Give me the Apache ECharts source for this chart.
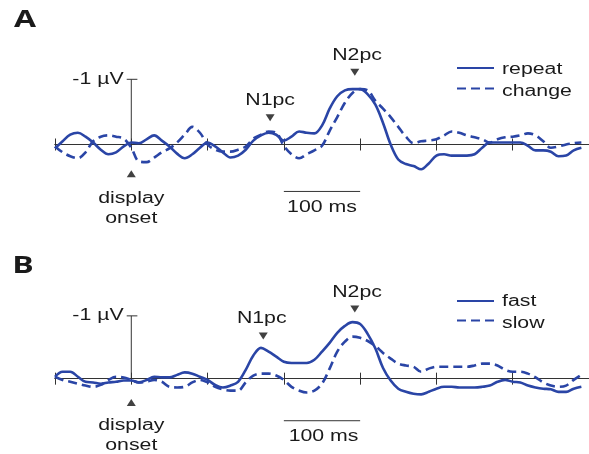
<!DOCTYPE html>
<html>
<head>
<meta charset="utf-8">
<script src="https://cdn.jsdelivr.net/npm/echarts@6/dist/echarts.min.js"></script>
<style>
html,body{margin:0;padding:0;background:#fff;}
#chart{width:589px;height:454px;}
</style>
</head>
<body>
<div id="chart"></div>
<script>
// time points (ms relative to display onset)
const times = [-100,-90,-80,-70,-60,-50,-40,-30,-20,-10,0,10,20,30,40,50,60,70,80,90,100,110,120,130,140,150,160,170,180,190,200,210,220,230,240,250,260,270,280,290,300,310,320,330,340,350,360,370,380,390,400,410,420,430,440,450,460,470,480,490,500,510,520,530,540,550,560,570,580,590];

// Panel A (µV, negative plotted up)
const repeatA = [0.06,-0.05,-0.15,-0.18,-0.12,-0.03,0.08,0.15,0.12,0.03,-0.03,-0.02,-0.08,-0.14,-0.06,0.03,0.14,0.21,0.15,0.05,-0.03,0.03,0.12,0.2,0.17,0.08,-0.06,-0.14,-0.18,-0.15,-0.06,-0.12,-0.2,-0.18,-0.17,-0.29,-0.55,-0.74,-0.83,-0.85,-0.85,-0.77,-0.61,-0.33,0,0.23,0.3,0.33,0.38,0.29,0.17,0.15,0.17,0.17,0.17,0.15,0.05,-0.03,-0.03,-0.03,-0.03,-0.03,0.02,0.09,0.09,0.11,0.18,0.17,0.09,0.05];
const changeA = [0.03,0.12,0.18,0.21,0.12,-0.05,-0.12,-0.14,-0.12,-0.09,0.05,0.26,0.27,0.2,0.12,0.06,-0.03,-0.15,-0.27,-0.18,0,0.08,0.11,0.11,0.08,0.03,-0.09,-0.15,-0.2,-0.18,0.02,0.15,0.21,0.15,0.09,0.02,-0.21,-0.42,-0.64,-0.79,-0.85,-0.83,-0.67,-0.55,-0.42,-0.27,-0.12,-0.02,-0.05,-0.06,-0.08,-0.14,-0.2,-0.18,-0.14,-0.11,-0.08,-0.03,-0.08,-0.11,-0.12,-0.14,-0.17,-0.14,-0.05,0.05,0.03,0,-0.02,-0.03];

// Panel B
const fastB = [-0.03,-0.11,-0.11,-0.03,0.05,0.06,0.08,0.06,0.05,0.03,0.03,0.06,0.02,-0.03,-0.02,-0.02,-0.06,-0.1,-0.08,-0.03,0.02,0.1,0.14,0.11,0.05,-0.14,-0.37,-0.49,-0.43,-0.35,-0.27,-0.25,-0.25,-0.25,-0.3,-0.43,-0.57,-0.73,-0.84,-0.9,-0.87,-0.71,-0.48,-0.17,0.03,0.16,0.21,0.24,0.25,0.21,0.16,0.13,0.13,0.14,0.14,0.14,0.13,0.11,0.05,0.02,0.05,0.06,0.11,0.14,0.16,0.17,0.21,0.21,0.16,0.13];
const slowB = [-0.03,0.02,0.05,0.08,0.11,0.13,0.1,0.02,-0.03,-0.02,0.02,0.06,0.05,0.02,0.05,0.13,0.14,0.13,0.06,0.02,0.06,0.13,0.17,0.19,0.19,0.06,-0.05,-0.08,-0.08,-0.05,0.02,0.13,0.19,0.22,0.19,0.08,-0.16,-0.43,-0.59,-0.67,-0.65,-0.6,-0.52,-0.41,-0.32,-0.24,-0.21,-0.19,-0.11,-0.16,-0.19,-0.19,-0.19,-0.19,-0.19,-0.21,-0.24,-0.24,-0.21,-0.14,-0.11,-0.11,-0.08,-0.02,0.06,0.11,0.13,0.11,0.02,-0.06];

const seriesNamesA = ['repeat','change'];
const seriesNamesB = ['fast','slow'];
const panelLetters = ['A','B'];

// annotation marks: [time, µV]
const peakMarksA = [[182,-0.41],[293,-1.11]];
const peakMarksB = [[173,-0.68],[293,-1.11]];
const onsetMarkA = [[0,0.45]];
const onsetMarkB = [[0,0.38]];
const calTimes = [0,0];          // -1 µV calibration bar
const calVolts = [0,-1];
const calTickTimes = [-6,8];
const calTickVolts = [-1,-1];
const scaleBarTimes = [200,300]; // 100 ms bar
const scaleBarVoltA = 0.72;
const scaleBarVoltB = 0.67;

// text annotations placed in data coordinates: [panel, time, µV, text, align]
const annotationTexts = [
  [0,-10,-1.0,'-1 µV','right'],
  [0,182,-0.67,'N1pc','center'],
  [0,296,-1.37,'N2pc','center'],
  [0,0,0.83,'display','center'],
  [0,0,1.13,'onset','center'],
  [0,250,0.97,'100 ms','center'],
  [1,-10,-1.0,'-1 µV','right'],
  [1,171,-0.95,'N1pc','center'],
  [1,296,-1.37,'N2pc','center'],
  [1,0,0.75,'display','center'],
  [1,0,1.06,'onset','center'],
  [1,252,0.93,'100 ms','center']
];

const BLUE = '#2a45a6';
const AX = '#333333';
const FONT_FAMILY = '"Liberation Sans", Arial, sans-serif';
const TXT = '#1a1a1a';
const SX = 1.33; // horizontal stretch of the original artwork
const YMIN = -1.6, YMAX = 1.2;

const zip = (xs, ys) => xs.map((x, i) => [x, ys[i]]);

function gridDef(base, pxPerUV){
  return {left:55, top: base + YMIN*pxPerUV, width:539, height:(YMAX-YMIN)*pxPerUV};
}
function xAxes(g){
  const common = {gridIndex:g, type:'value', min:-100, max:600, interval:100,
    axisLine:{onZero:true, onZeroAxisIndex:g, lineStyle:{color:AX, width:1}},
    axisTick:{show:true, length:6, lineStyle:{color:AX, width:1}},
    axisLabel:{show:false}, splitLine:{show:false}};
  return [Object.assign({position:'bottom'}, common), Object.assign({position:'top'}, common)];
}
function panelSeries(g, xi, names, d1, d2, marks, onsetMark, sbV){
  const base = {xAxisIndex:xi, yAxisIndex:g, clip:false};
  return [
    Object.assign({type:'line', name:names[0], data:zip(times,d1), smooth:0.35, symbol:'none',
      lineStyle:{color:BLUE, width:2.6}, itemStyle:{color:BLUE}, z:5}, base),
    Object.assign({type:'line', name:names[1], data:zip(times,d2), smooth:0.35, symbol:'none',
      lineStyle:{color:BLUE, width:2.6, type:[9,5]}, itemStyle:{color:BLUE}, z:4}, base),
    Object.assign({type:'line', data:zip(calTimes,calVolts), symbol:'none', lineStyle:{color:AX, width:1}, z:3, silent:true}, base),
    Object.assign({type:'line', data:zip(calTickTimes,calTickVolts), symbol:'none', lineStyle:{color:AX, width:1}, z:3, silent:true}, base),
    Object.assign({type:'line', data:zip(scaleBarTimes,[sbV,sbV]), symbol:'none', lineStyle:{color:AX, width:1}, z:3, silent:true}, base),
    Object.assign({type:'scatter', symbol:'triangle', symbolSize:[9,7], symbolRotate:180,
      itemStyle:{color:'#111'}, data:marks, z:6, silent:true}, base),
    Object.assign({type:'scatter', symbol:'triangle', symbolSize:[9,7],
      itemStyle:{color:'#111'}, data:onsetMark, z:6, silent:true}, base)
  ];
}

const chart = echarts.init(document.getElementById('chart'), null, {renderer:'canvas'});
const legendCommon = {orient:'vertical', left:456, padding:0, itemWidth:37, itemHeight:14,
  formatter:() => '', selectedMode:false, itemStyle:{opacity:0, borderWidth:0}};
const option = {
  animation:false,
  backgroundColor:'#ffffff',
  grid:[gridDef(144.5,65.2), gridDef(379,63)],
  xAxis: xAxes(0).concat(xAxes(1)),
  yAxis:[
    {gridIndex:0, type:'value', min:YMIN, max:YMAX, inverse:true, show:false},
    {gridIndex:1, type:'value', min:YMIN, max:YMAX, inverse:true, show:false}
  ],
  legend:[
    Object.assign({data:seriesNamesA, top:61, itemGap:8}, legendCommon),
    Object.assign({data:seriesNamesB, top:294, itemGap:7}, legendCommon)
  ],
  series: panelSeries(0, 0, seriesNamesA, repeatA, changeA, peakMarksA, onsetMarkA, scaleBarVoltA)
    .concat(panelSeries(1, 2, seriesNamesB, fastB, slowB, peakMarksB, onsetMarkB, scaleBarVoltB))
};
chart.setOption(option);

// text elements (stretched horizontally like the original figure)
function textEl(text, x, y, align, font){
  return {type:'text', x:x, y:y, scaleX:SX, z:10, silent:true,
    style:{text:text, x:0, y:0, fill:TXT, font:font, align:align, verticalAlign:'middle'}};
}
const labelFont = '16px ' + FONT_FAMILY;
const graphics = annotationTexts.map(a => {
  const p = chart.convertToPixel({xAxisIndex: a[0]*2, yAxisIndex: a[0]}, [a[1], a[2]]);
  return textEl(a[3], p[0], p[1], a[4], labelFont);
});
// legend names next to the legend line icons
const legendTextPos = [[502,70],[502,92],[502,302],[502,324]];
seriesNamesA.concat(seriesNamesB).forEach((n, i) => {
  graphics.push(textEl(n, legendTextPos[i][0], legendTextPos[i][1], 'left', labelFont));
});
// panel letters
const letterPos = [[25,20.5],[23,266.5]];
panelLetters.forEach((l, i) => {
  graphics.push(textEl(l, letterPos[i][0], letterPos[i][1], 'center', 'bold 24px "Open Sans", sans-serif'));
});
chart.setOption({graphic: graphics});
</script>
</body>
</html>
